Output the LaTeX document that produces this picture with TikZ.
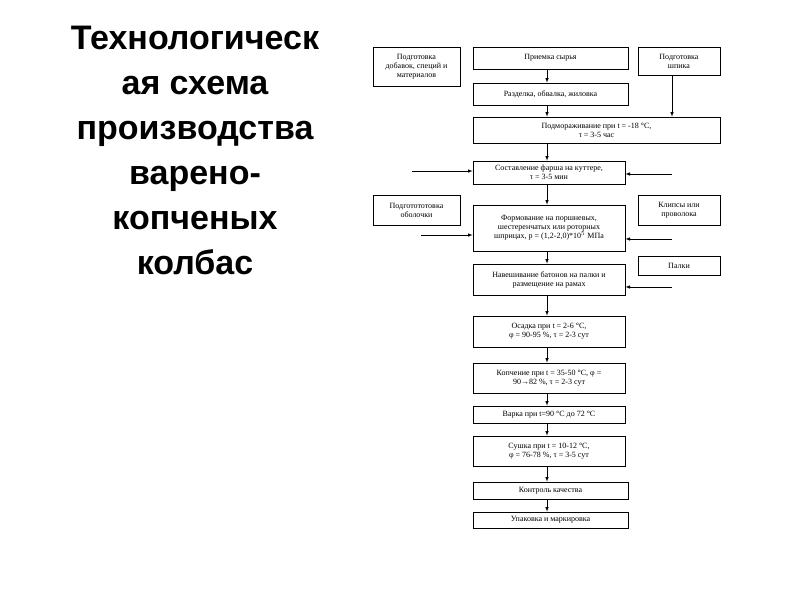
\documentclass[tikz,border=0pt]{standalone}
\usepackage{fontspec}
\setmainfont{Liberation Serif}
\newfontfamily\titlefont{Liberation Sans}
\usetikzlibrary{positioning}
\usetikzlibrary{arrows}
\tikzset{
  stage/.style={draw, thick, align=center, inner sep=1pt, font=\fontsize{8}{9}\selectfont},
  side/.style={draw, thick, align=center, inner sep=1pt, font=\fontsize{8}{9}\selectfont},
  flow/.style={->, >=latex, semithick},
}
\begin{document}
\begin{tikzpicture}[x=1pt, y=-1pt]
\useasboundingbox (0,0) rectangle (800,600);
\node[font=\titlefont\bfseries\fontsize{34}{45}\selectfont, align=center] (title) at (195,150)
  {Технологическ\\ая схема\\производства\\варено-\\копченых\\колбас};

\node[stage, minimum width=155pt, minimum height=22pt] (A) at (550.5,58) {Приемка сырья};
\node[stage, minimum width=155pt, minimum height=22pt] (B) at (550.5,94) {Разделка, обвалка, жиловка};
\node[stage, minimum width=247pt, minimum height=26pt] (C) at (596.5,130) {Подмораживание при t = -18 °C,\\ τ = 3-5 час};
\node[stage, minimum width=152pt, minimum height=23pt] (D) at (549,172.5) {Составление фарша на куттере,\\ τ = 3-5 мин};
\node[stage, minimum width=152pt, minimum height=46pt] (E) at (549,228) {Формование на поршневых,\\шестеренчатых или роторных\\шприцах, p = (1,2-2,0)*10$^{5}$ МПа};
\node[stage, minimum width=152pt, minimum height=31pt] (F) at (549,279.5) {Навешивание батонов на палки и\\размещение на рамах};
\node[stage, minimum width=152pt, minimum height=31pt] (G) at (549,331.5) {Осадка при t = 2-6 °C,\\φ = 90-95 \%, τ = 2-3 сут};
\node[stage, minimum width=152pt, minimum height=30pt] (H) at (549,378) {Копчение при t = 35-50 °C, φ =\\90→82 \%, τ = 2-3 сут};
\node[stage, minimum width=152pt, minimum height=17pt] (I) at (549,414.5) {Варка при t=90 °C до 72 °C};
\node[stage, minimum width=152pt, minimum height=30pt] (J) at (549,451) {Сушка при t = 10-12 °C,\\φ = 76-78 \%, τ = 3-5 сут};
\node[stage, minimum width=155pt, minimum height=17pt] (K) at (550.5,490.5) {Контроль качества};
\node[stage, minimum width=155pt, minimum height=16pt] (L) at (550.5,520) {Упаковка и маркировка};

\node[side, minimum width=87pt, minimum height=39pt] (S1) at (416.5,66.5) {Подготовка\\добавок, специй и\\материалов};
\node[side, minimum width=82pt, minimum height=28pt] (S2) at (679,61) {Подготовка\\шпика};
\node[side, minimum width=87pt, minimum height=30pt] (S3) at (416.5,210) {Подготототовка\\оболочки};
\node[side, minimum width=82pt, minimum height=30pt] (S4) at (679,210) {Клипсы или\\проволока};
\node[side, minimum width=82pt, minimum height=19pt] (S5) at (679,265.5) {Палки};

\coordinate (axis) at (547,0);
\coordinate (spine) at (672,0);
\coordinate (inD1) at (412,171);
\coordinate (inD2) at (672,174);
\coordinate (inE1) at (421,235);
\coordinate (inE2) at (672,239);
\coordinate (inF2) at (672,287);

\foreach \a/\b in {A/B, B/C, C/D, D/E, E/F, F/G, G/H, H/I, I/J, J/K, K/L}
  \draw[flow] (\a.south -| axis) -- (\b.north -| axis);
\draw[flow] (S2.south -| spine) -- (C.north -| spine);
\draw[flow] (inD1) -- (inD1 -| D.west);
\draw[flow] (inD2) -- (inD2 -| D.east);
\draw[flow] (inE1) -- (inE1 -| E.west);
\draw[flow] (inE2) -- (inE2 -| E.east);
\draw[flow] (inF2) -- (inF2 -| F.east);
\end{tikzpicture}
\end{document}
